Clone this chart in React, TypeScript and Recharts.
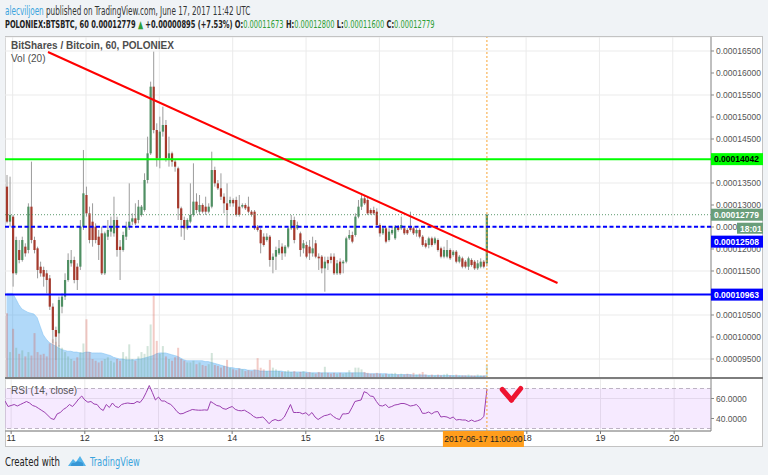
import React from "react";
import {
  ComposedChart,
  Bar,
  Line,
  Area,
  XAxis,
  YAxis,
  CartesianGrid,
  ReferenceLine,
  ReferenceArea,
  Cell,
} from "recharts";

// ---------- DATA (prices in satoshi = 1e-8 BTC) ----------
const FIRST_CANDLE_UTC = Date.UTC(2017, 5, 10, 22); // hourly candles
const TOTAL_SLOTS = 231;

const OPEN = [
  13417, 12621, 12735, 11447, 11977, 11750, 12053, 11977, 12962, 12204,
  12015, 11598, 11523, 11447, 11333, 10689, 10159, 10083, 10689, 10917,
  11295, 11674, 11750, 11598, 11598, 12507, 13227, 12810, 12621, 12507,
  12280, 12356, 11447, 12280, 12394, 12356, 12659, 12053, 11977, 12280,
  12507, 12621, 12697, 12659, 12773, 12886, 13568, 14174, 15689, 14704,
  14061, 14667, 14818, 14061, 14174, 13985, 13833, 12924, 12659, 12470,
  12621, 12773, 13076, 12848, 13000, 12962, 12848, 12962, 13795, 13492,
  13379, 13189, 13038, 13038, 13114, 13114, 12962, 12962, 13000, 12962,
  12848, 12848, 12507, 12432, 12280, 12204, 12280, 11750, 11826, 11901,
  12053, 11901, 12053, 12470, 12659, 12470, 12356, 12015, 12091, 12053,
  11901, 12129, 11826, 11826, 11560, 11750, 11826, 11826, 11447, 11712,
  11674, 11712, 12242, 12318, 12318, 12735, 12962, 13151, 13114, 12886,
  12886, 12848, 12545, 12356, 12470, 12204, 12356, 12242, 12507, 12470,
  12470, 12432, 12507, 12470, 12356, 12432, 12280, 12129, 12091, 12242,
  12129, 12204, 12015, 11826, 11826, 11977, 11863, 11939, 11712, 11788,
  11712, 11598, 11750, 11712, 11560, 11598, 11712, 11673,
];
const HIGH = [
  13682, 13644, 12773, 12280, 12204, 12280, 12129, 13038, 13985, 12280,
  12053, 11712, 11598, 11523, 11409, 10765, 10235, 10917, 10992, 11447,
  11901, 11977, 11826, 11674, 12659, 14250, 13417, 12962, 13038, 12583,
  12432, 12507, 12394, 12659, 12735, 13189, 12735, 12204, 12394, 12621,
  13492, 12810, 13038, 13114, 13000, 13720, 14553, 15803, 16485, 14856,
  15007, 15235, 14932, 14553, 14212, 14023, 13871, 12962, 12735, 12697,
  13492, 13947, 13265, 13227, 13038, 13189, 13038, 14212, 13871, 13568,
  13720, 13265, 13492, 13189, 13151, 13189, 13227, 13038, 13038, 13189,
  12886, 12886, 12545, 12470, 12356, 12356, 12318, 11901, 12053, 12204,
  12129, 12091, 12507, 12773, 12735, 12621, 12394, 12204, 12167, 12204,
  12280, 12204, 11901, 11863, 11826, 11826, 11901, 11901, 11750, 11788,
  11750, 12280, 12432, 12394, 12810, 13114, 13265, 13227, 13189, 12924,
  12962, 12924, 12583, 12507, 12507, 12470, 12507, 12545, 12545, 12735,
  12507, 12470, 12848, 12507, 12470, 12470, 12318, 12204, 12280, 12280,
  12280, 12242, 12053, 12053, 12204, 12015, 11977, 11977, 11863, 11826,
  11750, 11826, 11788, 11750, 11750, 11788, 11750, 12800,
];
const LOW = [
  12583, 12507, 11144, 11409, 11674, 11712, 11826, 11901, 12129, 11901,
  11333, 11371, 11144, 10992, 10614, 9856, 9477, 9780, 10538, 10841,
  11257, 11598, 11220, 11068, 11523, 12432, 12735, 12129, 12053, 12129,
  11750, 11409, 11409, 12204, 12280, 12280, 11826, 11295, 11939, 12204,
  12432, 12545, 12545, 12583, 12735, 12848, 13492, 14136, 14629, 13871,
  13833, 14553, 13985, 13871, 13871, 13757, 12659, 12280, 12204, 12432,
  12583, 12735, 12810, 12773, 12810, 12773, 12810, 12924, 13417, 13341,
  13114, 12810, 12507, 12962, 12962, 12735, 12735, 12924, 12886, 12810,
  12735, 12432, 12394, 11901, 12053, 12167, 11598, 11447, 11523, 11863,
  11750, 11826, 12015, 12432, 12129, 12432, 11826, 11901, 11788, 11750,
  11826, 11788, 11523, 11447, 11030, 11523, 11674, 11409, 11409, 11409,
  11447, 11674, 12204, 12129, 12280, 12697, 12886, 13000, 12773, 12773,
  12773, 12507, 12280, 12318, 12129, 12167, 12318, 12204, 12394, 12432,
  12318, 12318, 12394, 12318, 12280, 12242, 12053, 12015, 12015, 12053,
  12091, 11939, 11788, 11788, 11788, 11750, 11826, 11674, 11674, 11560,
  11560, 11523, 11598, 11523, 11523, 11560, 11560, 11600,
];
const CLOSE = [
  12621, 12773, 11447, 12204, 11750, 12204, 11901, 12962, 12204, 11977,
  11523, 11447, 11371, 11295, 10689, 10159, 10007, 10841, 10917, 11295,
  11750, 11750, 11295, 11295, 12507, 13265, 12810, 12204, 12204, 12204,
  12091, 11447, 12356, 12432, 12507, 12659, 11977, 11977, 12318, 12507,
  12621, 12697, 12583, 12962, 12962, 13568, 14174, 15689, 14704, 14061,
  14667, 14818, 14061, 14174, 13985, 13871, 12924, 12659, 12470, 12659,
  12773, 13076, 12886, 13000, 12848, 12848, 12962, 13795, 13492, 13379,
  13189, 13038, 12886, 13114, 13038, 12773, 12773, 13000, 12924, 12848,
  12773, 12470, 12432, 12129, 12091, 12280, 11750, 11826, 11977, 12015,
  11901, 12053, 12470, 12659, 12204, 12545, 11977, 12129, 11826, 11901,
  12015, 11826, 11788, 11560, 11712, 11674, 11750, 11447, 11674, 11447,
  11712, 12242, 12318, 12167, 12735, 12962, 13151, 13038, 12810, 12810,
  12810, 12545, 12356, 12470, 12167, 12394, 12432, 12507, 12432, 12545,
  12356, 12356, 12432, 12356, 12432, 12280, 12091, 12053, 12242, 12091,
  12242, 11977, 11826, 11977, 11977, 11788, 11939, 11712, 11826, 11598,
  11598, 11788, 11636, 11560, 11674, 11712, 11598, 12779,
];
const VOLUME = [
  75, 30, 57, 35, 28, 32, 25, 30, 26, 52,
  30, 27, 28, 25, 40, 45, 42, 38, 35, 30,
  25, 22, 20, 24, 30, 40, 68, 30, 22, 20,
  18, 20, 22, 24, 20, 18, 22, 20, 30, 25,
  39, 22, 20, 25, 30, 28, 37, 62, 95, 43,
  28, 37, 25, 22, 20, 24, 35, 22, 20, 18,
  18, 20, 16, 18, 15, 14, 16, 29, 15, 14,
  12, 14, 21, 12, 10, 9, 11, 10, 8, 9,
  8, 10, 23, 12, 10, 8, 21, 12, 10, 8,
  7, 8, 9, 7, 8, 6, 7, 8, 6, 7,
  6, 5, 7, 6, 13, 6, 5, 6, 5, 6,
  5, 6, 9, 6, 12, 12, 10, 7, 6, 5,
  5, 6, 5, 4, 5, 4, 5, 6, 4, 5,
  4, 5, 4, 6, 4, 5, 7, 4, 3, 4,
  3, 4, 3, 4, 5, 3, 3, 4, 3, 3,
  3, 4, 3, 3, 4, 3, 3, 15,
];
const VOLUME_MA = [
  98, 98, 98, 92, 85, 80, 78, 76, 75, 74,
  70, 60, 50, 45, 41, 39, 37, 35, 33, 32,
  31, 31, 30, 30, 29, 29, 30, 30, 29, 29,
  29, 29, 28, 27, 26, 24, 23, 22, 22, 21,
  21, 21, 21, 22, 22, 23, 24, 25, 26, 28,
  29, 29, 29, 28, 27, 26, 25, 23, 21, 20,
  20, 20, 20, 20, 20, 19, 19, 18, 17, 16,
  15, 14, 13, 12, 12, 11, 11, 10, 10, 9,
  9, 9, 9, 8, 8, 8, 8, 8, 8, 8,
  8, 7, 7, 7, 7, 7, 7, 7, 7, 6,
  6, 6, 6, 6, 6, 6, 6, 6, 6, 6,
  6, 6, 6, 6, 6, 6, 6, 6, 5, 5,
  5, 5, 5, 5, 5, 4.5, 4.5, 4, 4, 4,
  4, 4, 4, 3.5, 3.5, 3.5, 3.5, 3.5, 3, 3,
  3, 3, 3, 3, 3, 2.8, 2.8, 2.7, 2.6, 2.5,
  2.5, 2.4, 2.4, 2.3, 2.3, 2.3, 2.3, 2.5,
];
const RSI = [
  57.5, 52, 53, 54, 52.5, 54, 55.5, 57, 55.5, 53,
  52, 50, 48, 46, 43, 40, 39, 44.6, 46, 49,
  51, 54, 52, 55.5, 59.5, 62.5, 58.5, 56.3, 57, 54.5,
  54, 50, 48, 54, 51, 55.5, 52, 51, 54, 55,
  55.5, 55, 55, 57, 56, 60, 66, 73, 66, 58.5,
  61.5, 57.5, 57.5, 55.5, 54, 51, 47, 44.6, 45, 46.5,
  47.7, 49, 48.6, 48.3, 48.3, 48.6, 48.3, 57, 55, 53,
  52.3, 50, 49.2, 50.8, 52, 49.2, 48, 47.7, 48.3, 46.5,
  44.6, 42, 40.6, 41, 41.5, 38.5, 34.8, 37.8, 39, 37.8,
  38.5, 41.5, 47.7, 54, 46, 46, 46, 44.6, 45.8, 43,
  46, 41.5, 39, 41, 42.8, 43.4, 44.6, 42, 40, 39,
  44.6, 44.6, 45.2, 50.8, 57, 57.8, 58.5, 66.8, 65.5, 62.5,
  62, 57, 53, 52.5, 54, 51, 52, 53.5, 54, 55,
  55, 54, 52.5, 53, 54, 51, 45.2, 45.2, 46.5, 44.6,
  46.5, 47, 41.5, 42, 41.5, 40, 41.5, 38.5, 39, 38.5,
  38.5, 37, 38.5, 37, 37.8, 39, 42, 69.2,
];

const PRICE_TICKS = [9500, 10000, 10500, 11000, 11500, 12000, 12500, 13000, 13500, 14000, 14500, 15000, 15500, 16000, 16500];
const PRICE_DOMAIN = [9068, 16818];
const RSI_TICKS = [40, 60];
const RSI_DOMAIN = [27.5, 79.5];
const RSI_BAND = [30, 70];

const RESISTANCE = 14042;
const PIVOT = 12508;
const SUPPORT = 10963;
const LAST_PRICE = 12779;
const COUNTDOWN = "18:01";
const TREND_START = { idx: 14, price: 16477 };
const TREND_END = { idx: 180, price: 11227 };
const CHECK_MARK = [
  { idx: 162, rsi: 69 },
  { idx: 165, rsi: 58.5 },
  { idx: 168, rsi: 70 },
];

// ---------- STYLE ----------
const UP = "#4f8f63";
const DOWN = "#a53a2d";
const WICK = "#9c9c9c";
const NARROW = "'Liberation Sans Narrow', 'DejaVu Sans Condensed', 'Liberation Sans', Arial, sans-serif";
const SANS = "'Liberation Sans', Arial, sans-serif";
const GRID = "#ebebeb";

const fmtPrice = (v: number) => (v / 1e8).toFixed(8);
const slotDate = (i: number) => new Date(FIRST_CANDLE_UTC + i * 3600000);
const pad = (n: number) => String(n).padStart(2, "0");
const fmtFull = (d: Date) =>
  `${d.getUTCFullYear()}-${pad(d.getUTCMonth() + 1)}-${pad(d.getUTCDate())} ${pad(d.getUTCHours())}:00:00`;

const rows = Array.from({ length: TOTAL_SLOTS }, (_, i) => {
  const has = i < OPEN.length;
  return {
    i,
    o: has ? OPEN[i] : null,
    h: has ? HIGH[i] : null,
    l: has ? LOW[i] : null,
    c: has ? CLOSE[i] : null,
    range: has ? [LOW[i], HIGH[i]] : null,
    vol: has ? VOLUME[i] : null,
    volMA: has ? VOLUME_MA[i] : null,
    rsi: has ? RSI[i] : null,
  };
});
const DAY_TICKS = rows.filter((r) => slotDate(r.i).getUTCHours() === 0).map((r) => r.i);
const LAST_IDX = OPEN.length - 1;

const Candle = (props: any) => {
  const { x, y, width, height, payload } = props;
  if (!payload || payload.o == null) return null;
  const { o, h, l, c } = payload;
  const top = Math.min(y, y + height);
  const hh = Math.abs(height);
  const k = h - l > 0 ? hh / (h - l) : 0;
  const cx = x + width / 2;
  const up = c >= o;
  const bodyTop = top + (h - Math.max(o, c)) * k;
  const bodyH = Math.max(1, Math.abs(o - c) * k);
  return (
    <g>
      <line x1={cx} x2={cx} y1={top} y2={top + hh} stroke={WICK} strokeWidth={1} />
      <rect x={cx - 1.1} y={bodyTop} width={2.2} height={bodyH} fill={up ? UP : DOWN} />
    </g>
  );
};

const PriceTag = (props: any) => {
  const { viewBox, text, bg, fg, dy = 0, extra } = props;
  if (!viewBox) return null;
  const right = viewBox.x + viewBox.width;
  const cy = viewBox.y + dy;
  return (
    <g>
      <rect x={right} y={cy - 6} width={52} height={12} fill={bg} />
      <text x={right + 3} y={cy + 3.2} fill={fg} fontSize={8.5} fontWeight={700} fontFamily={SANS}>
        {text}
      </text>
      {extra ? (
        <g>
          <rect x={right + 26} y={cy + 8} width={26} height={11} fill={bg} />
          <text x={right + 29} y={cy + 16.8} fill={fg} fontSize={8.5} fontWeight={700} fontFamily={SANS}>
            {extra}
          </text>
        </g>
      ) : null}
    </g>
  );
};

const TimeTag = (props: any) => {
  const { viewBox, text } = props;
  if (!viewBox) return null;
  const bottom = viewBox.y + viewBox.height;
  return (
    <g>
      <rect x={viewBox.x - 44} y={bottom} width={81} height={16} fill="#ff9d1c" />
      <text x={viewBox.x - 3.5} y={bottom + 11} textAnchor="middle" fill="#222" fontSize={8.5} fontFamily={SANS}>
        {text}
      </text>
    </g>
  );
};

const W = 758;
const MAIN_H = 341;
const RSI_H = 68;
const AXIS_W = 52;
const TIME_H = 16;

const squeeze = (k: number): React.CSSProperties => ({
  transform: `scaleX(${k})`,
  transformOrigin: "0 0",
  whiteSpace: "nowrap",
});

export default function App() {
  const hdrGreen = "#2e9e35";
  return (
    <div
      style={{
        position: "absolute",
        left: 0,
        top: 0,
        width: 768,
        height: 475,
        background: "#f0f3f6",
        fontFamily: NARROW,
        overflow: "hidden",
      }}
    >
      <div style={{ position: "absolute", left: 5, top: 4, fontSize: 11.5, color: "#333", ...squeeze(0.7) }}>
        <span style={{ color: "#3ba3dd" }}>alecviljoen</span> published on TradingView.com, June 17, 2017 11:42 UTC
      </div>
      <div style={{ position: "absolute", left: 5, top: 18, fontSize: 11, fontWeight: 700, color: "#222", ...squeeze(0.675) }}>
        POLONIEX:BTSBTC, 60 0.00012779 <span style={{ color: hdrGreen }}>▲</span> +0.00000895 (+7.53%) O:
        <span style={{ color: hdrGreen, fontWeight: 400 }}>0.00011673</span> H:
        <span style={{ color: hdrGreen, fontWeight: 400 }}>0.00012800</span> L:
        <span style={{ color: hdrGreen, fontWeight: 400 }}>0.00011600</span> C:
        <span style={{ color: hdrGreen, fontWeight: 400 }}>0.00012779</span>
      </div>

      {/* chart frame */}
      <div
        style={{
          position: "absolute",
          left: 5,
          top: 36,
          width: W,
          height: 411,
          background: "#fff",
          border: "1px solid #c3c3c3",
          boxSizing: "border-box",
        }}
      />

      {/* volume + grid layer */}
      <div style={{ position: "absolute", left: 5, top: 37 }}>
        <ComposedChart width={W} height={MAIN_H} data={rows} margin={{ top: 0, right: AXIS_W, bottom: 0, left: 0 }}>
          <XAxis dataKey="i" type="category" hide ticks={DAY_TICKS} interval={0} />
          <YAxis type="number" hide domain={PRICE_DOMAIN} ticks={PRICE_TICKS} allowDataOverflow />
          <YAxis yAxisId="vol" type="number" hide domain={[0, 395]} allowDataOverflow />
          <CartesianGrid stroke={GRID} strokeWidth={1} />
          <Area
            yAxisId="vol"
            dataKey="volMA"
            type="linear"
            fill="#3c9ff0"
            fillOpacity={0.4}
            stroke="#86c4f3"
            strokeWidth={0.6}
            isAnimationActive={false}
          />
          <Bar yAxisId="vol" dataKey="vol" barSize={2} isAnimationActive={false}>
            {rows.map((r) => (
              <Cell
                key={r.i}
                fill={r.c != null && r.o != null && r.c >= r.o ? "#6ba583" : "#d75442"}
                fillOpacity={0.3}
              />
            ))}
          </Bar>
        </ComposedChart>
      </div>

      {/* candles + price scale */}
      <div style={{ position: "absolute", left: 5, top: 37 }}>
        <ComposedChart width={W} height={MAIN_H} data={rows} margin={{ top: 0, right: 0, bottom: 0, left: 0 }}>
          <XAxis dataKey="i" type="category" hide />
          <YAxis
            orientation="right"
            width={AXIS_W}
            type="number"
            domain={PRICE_DOMAIN}
            ticks={PRICE_TICKS}
            allowDataOverflow
            interval={0}
            tickFormatter={fmtPrice}
            tick={{ fontSize: 8.5, fill: "#555", fontFamily: SANS }}
            tickSize={3}
            tickMargin={2}
            tickLine={{ stroke: "#888" }}
            axisLine={{ stroke: "#8a8a8a" }}
          />
          <Bar dataKey="range" barSize={2} shape={<Candle />} isAnimationActive={false} />
        </ComposedChart>
      </div>

      {/* drawings + price tags layer (above the scale) */}
      <div style={{ position: "absolute", left: 5, top: 37 }}>
        <ComposedChart width={W} height={MAIN_H} data={rows} margin={{ top: 0, right: AXIS_W, bottom: 0, left: 0 }}>
          <XAxis dataKey="i" type="category" hide />
          <YAxis type="number" hide domain={PRICE_DOMAIN} allowDataOverflow />
          <ReferenceLine x={LAST_IDX} stroke="#f8a534" strokeDasharray="2 2" strokeWidth={1} />
          <ReferenceLine
            y={RESISTANCE}
            stroke="#00ff00"
            strokeWidth={2}
            label={<PriceTag text={fmtPrice(RESISTANCE)} bg="#00ff00" fg="#000" />}
          />
          <ReferenceLine
            y={LAST_PRICE}
            stroke="#5c9a6e"
            strokeDasharray="1 2"
            strokeWidth={1}
            label={<PriceTag text={fmtPrice(LAST_PRICE)} bg="#6a9e7a" fg="#fff" extra={COUNTDOWN} />}
          />
          <ReferenceLine
            y={PIVOT}
            stroke="#0000ff"
            strokeWidth={2}
            strokeDasharray="4 2.5"
            label={<PriceTag text={fmtPrice(PIVOT)} bg="#0000ff" fg="#fff" dy={15} />}
          />
          <ReferenceLine
            y={SUPPORT}
            stroke="#0000ff"
            strokeWidth={2}
            label={<PriceTag text={fmtPrice(SUPPORT)} bg="#0000ff" fg="#fff" />}
          />
          <ReferenceLine
            segment={[
              { x: TREND_START.idx, y: TREND_START.price },
              { x: TREND_END.idx, y: TREND_END.price },
            ]}
            stroke="#ff0000"
            strokeWidth={2}
          />
        </ComposedChart>
      </div>

      <div style={{ position: "absolute", left: 11, top: 40, fontSize: 10, fontWeight: 700, color: "#4d4d4d", fontFamily: SANS, whiteSpace: "nowrap" }}>
        BitShares / Bitcoin, 60, POLONIEX
      </div>
      <div style={{ position: "absolute", left: 11, top: 53, fontSize: 10, color: "#4d4d4d", fontFamily: SANS }}>Vol (20)</div>

      {/* pane separator */}
      <div style={{ position: "absolute", left: 5, top: 377, width: W, height: 2, background: "#7d7d7d" }} />

      {/* RSI pane + time axis */}
      <div style={{ position: "absolute", left: 5, top: 379 }}>
        <ComposedChart width={W} height={RSI_H} data={rows} margin={{ top: 0, right: 0, bottom: 0, left: 0 }}>
          <XAxis
            dataKey="i"
            type="category"
            ticks={DAY_TICKS}
            interval={0}
            height={TIME_H}
            tickFormatter={(v: number) => String(slotDate(v).getUTCDate())}
            tick={{ fontSize: 9, fill: "#333", fontFamily: SANS }}
            tickSize={3}
            tickMargin={1}
            tickLine={{ stroke: "#777" }}
            axisLine={{ stroke: "#777" }}
          />
          <YAxis
            orientation="right"
            width={AXIS_W}
            type="number"
            domain={RSI_DOMAIN}
            ticks={RSI_TICKS}
            allowDataOverflow
            tickFormatter={(v: number) => v.toFixed(4)}
            tick={{ fontSize: 8.5, fill: "#555", fontFamily: SANS }}
            tickSize={3}
            tickMargin={2}
            tickLine={{ stroke: "#888" }}
            axisLine={{ stroke: "#8a8a8a" }}
          />
          <CartesianGrid stroke={GRID} />
          <ReferenceArea y1={RSI_BAND[0]} y2={RSI_BAND[1]} fill="#9915ff" fillOpacity={0.09} stroke="none" />
          <ReferenceLine y={RSI_BAND[1]} stroke="#bdb3c4" strokeDasharray="4 3" />
          <ReferenceLine y={RSI_BAND[0]} stroke="#bdb3c4" strokeDasharray="4 3" />
          <Line dataKey="rsi" type="linear" stroke="#9b3fb0" strokeWidth={1} dot={false} isAnimationActive={false} />
        </ComposedChart>
      </div>

      {/* RSI drawings + time tag layer */}
      <div style={{ position: "absolute", left: 5, top: 379 }}>
        <ComposedChart width={W} height={RSI_H} data={rows} margin={{ top: 0, right: AXIS_W, bottom: TIME_H, left: 0 }}>
          <XAxis dataKey="i" type="category" hide />
          <YAxis type="number" hide domain={RSI_DOMAIN} allowDataOverflow />
          <ReferenceLine
            x={LAST_IDX}
            stroke="#f8a534"
            strokeDasharray="2 2"
            label={<TimeTag text={fmtFull(slotDate(LAST_IDX))} />}
          />
          <ReferenceLine
            segment={[
              { x: CHECK_MARK[0].idx, y: CHECK_MARK[0].rsi },
              { x: CHECK_MARK[1].idx, y: CHECK_MARK[1].rsi },
            ]}
            stroke="#ee1430"
            strokeWidth={5}
            strokeLinecap="round"
          />
          <ReferenceLine
            segment={[
              { x: CHECK_MARK[1].idx, y: CHECK_MARK[1].rsi },
              { x: CHECK_MARK[2].idx, y: CHECK_MARK[2].rsi },
            ]}
            stroke="#ee1430"
            strokeWidth={5}
            strokeLinecap="round"
          />
        </ComposedChart>
      </div>
      <div style={{ position: "absolute", left: 11, top: 385, fontSize: 10, color: "#555", fontFamily: SANS }}>RSI (14, close)</div>

      {/* footer */}
      <div style={{ position: "absolute", left: 5, top: 455, fontSize: 11.5, color: "#222", ...squeeze(0.83) }}>
        Created with
      </div>
      <svg style={{ position: "absolute", left: 67, top: 454 }} width={20} height={14} viewBox="0 0 20 14">
        <path d="M1 12 L6 5 L9 8 L13 2 L19 12 Z" fill="#55b4ea" />
        <path d="M4 12 Q4 8 8 9 Q10 6 13 8 Q17 8 16 12 Z" fill="#2f8fd0" opacity={0.8} />
      </svg>
      <div style={{ position: "absolute", left: 90, top: 455, fontSize: 11.5, color: "#3ba3dd", ...squeeze(0.8) }}>
        TradingView
      </div>
    </div>
  );
}
